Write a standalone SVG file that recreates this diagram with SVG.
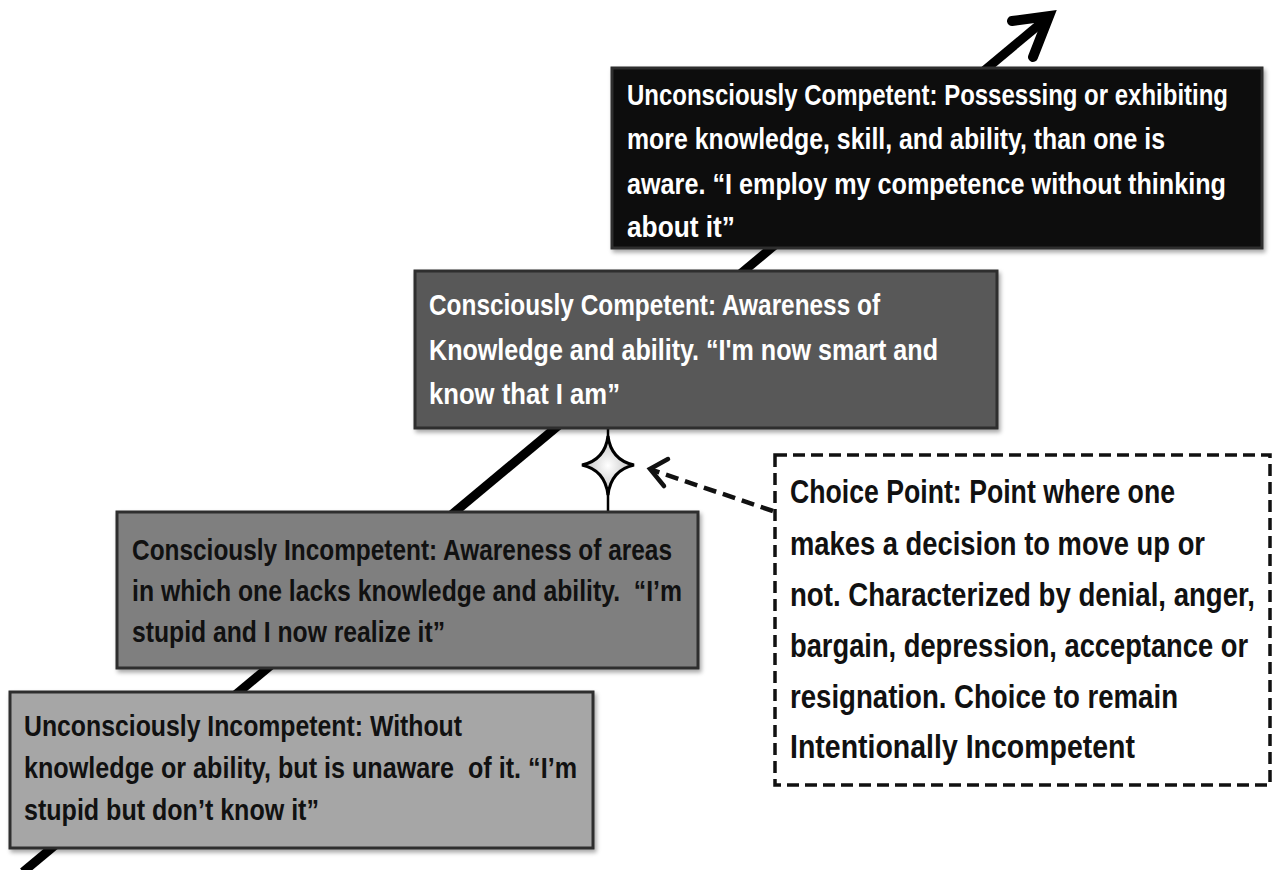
<svg xmlns="http://www.w3.org/2000/svg" width="1277" height="870" viewBox="0 0 1277 870">
  <defs>
    <style>
      .lbl { font-family: "Liberation Sans", Arial, sans-serif; font-weight: bold; font-size: 21px; }
      .lt { fill: #ffffff; }
      .dk { fill: #111111; }
      .box { stroke: #2e2e2e; stroke-width: 3; }
      .choice { font-family: "Liberation Sans", Arial, sans-serif; font-weight: bold; font-size: 24px; fill: #111111; }
      .dash { fill: none; stroke: #111111; stroke-width: 3.5; stroke-dasharray: 12 6; }
    </style>
    <filter id="shadow" x="-5%" y="-5%" width="112%" height="120%">
      <feDropShadow dx="2" dy="3" stdDeviation="2" flood-color="#000" flood-opacity="0.35"/>
    </filter>
    <radialGradient id="starFill" cx="0.5" cy="0.5" r="0.5">
      <stop offset="0" stop-color="#ffffff"/>
      <stop offset="1" stop-color="#bdbdbd"/>
    </radialGradient>
  </defs>

  <rect width="1277" height="870" fill="#ffffff"/>

  <!-- connectors: growth line, choice-point stem and dashed pointer -->
  <g id="connectors">
    <line x1="23" y1="872" x2="1046" y2="19" stroke="#000" stroke-width="9"/>
    <polyline points="1012,21 1049,16 1033,57" fill="none" stroke="#000" stroke-width="10" stroke-linecap="round" stroke-linejoin="miter"/>
    <line x1="608" y1="428" x2="608" y2="512" stroke="#000" stroke-width="2.5"/>
    <line x1="773" y1="511" x2="652" y2="470" stroke="#111" stroke-width="4.5" stroke-dasharray="13 7"/>
    <polyline points="668,459 650,469 664,486" fill="none" stroke="#111" stroke-width="4.5" stroke-linecap="round"/>
  </g>

  <!-- stage 1 -->
  <g id="unconsciously-incompetent">
    <rect class="box" x="10" y="692" width="583" height="156" fill="#a6a6a6" filter="url(#shadow)"/>
    <text class="lbl dk" transform="translate(24,736) scale(1,1.385)" textLength="438" lengthAdjust="spacingAndGlyphs">Unconsciously Incompetent: Without</text>
    <text class="lbl dk" transform="translate(24,778) scale(1,1.385)" textLength="553" lengthAdjust="spacingAndGlyphs" xml:space="preserve">knowledge or ability, but is unaware  of it. “I’m</text>
    <text class="lbl dk" transform="translate(24,820) scale(1,1.385)" textLength="295" lengthAdjust="spacingAndGlyphs">stupid but don’t know it”</text>
  </g>

  <!-- stage 2 -->
  <g id="consciously-incompetent">
    <rect class="box" x="117" y="512" width="581" height="156" fill="#7f7f7f" filter="url(#shadow)"/>
    <text class="lbl dk" transform="translate(132,560) scale(1,1.385)" textLength="540" lengthAdjust="spacingAndGlyphs">Consciously Incompetent: Awareness of areas</text>
    <text class="lbl dk" transform="translate(132,601) scale(1,1.385)" textLength="550" lengthAdjust="spacingAndGlyphs" xml:space="preserve">in which one lacks knowledge and ability.  “I’m</text>
    <text class="lbl dk" transform="translate(132,642) scale(1,1.385)" textLength="313" lengthAdjust="spacingAndGlyphs">stupid and I now realize it”</text>
  </g>

  <!-- stage 3 -->
  <g id="consciously-competent">
    <rect class="box" x="415" y="271" width="582" height="157" fill="#585858" filter="url(#shadow)"/>
    <text class="lbl lt" transform="translate(429,315) scale(1,1.385)" textLength="451" lengthAdjust="spacingAndGlyphs">Consciously Competent: Awareness of</text>
    <text class="lbl lt" transform="translate(429,360) scale(1,1.385)" textLength="509" lengthAdjust="spacingAndGlyphs">Knowledge and ability. “I'm now smart and</text>
    <text class="lbl lt" transform="translate(429,404) scale(1,1.385)" textLength="191" lengthAdjust="spacingAndGlyphs">know that I am”</text>
  </g>

  <!-- stage 4 -->
  <g id="unconsciously-competent">
    <rect class="box" x="612" y="68" width="650" height="180" fill="#0c0c0c" stroke="#3a3a3a" filter="url(#shadow)"/>
    <text class="lbl lt" transform="translate(627,105) scale(1,1.385)" textLength="601" lengthAdjust="spacingAndGlyphs">Unconsciously Competent: Possessing or exhibiting</text>
    <text class="lbl lt" transform="translate(627,149) scale(1,1.385)" textLength="538" lengthAdjust="spacingAndGlyphs">more knowledge, skill, and ability, than one is</text>
    <text class="lbl lt" transform="translate(627,194) scale(1,1.385)" textLength="599" lengthAdjust="spacingAndGlyphs">aware. “I employ my competence without thinking</text>
    <text class="lbl lt" transform="translate(627,237) scale(1,1.385)" textLength="108" lengthAdjust="spacingAndGlyphs">about it”</text>
  </g>

  <!-- choice point marker -->
  <g id="choice-star">
    <path d="M608,436 Q611,460 634,465 Q611,470 608,495 Q605,470 582,465 Q605,460 608,436 Z" fill="url(#starFill)" stroke="#000" stroke-width="3" stroke-linejoin="miter"/>
  </g>

  <!-- choice point note -->
  <g id="choice-point">
    <rect class="dash" x="775" y="455" width="495" height="330" fill="#ffffff"/>
    <text class="choice" transform="translate(790,503) scale(1,1.375)" textLength="385" lengthAdjust="spacingAndGlyphs">Choice Point: Point where one</text>
    <text class="choice" transform="translate(790,555) scale(1,1.375)" textLength="415" lengthAdjust="spacingAndGlyphs">makes a decision to move up or</text>
    <text class="choice" transform="translate(790,606) scale(1,1.375)" textLength="465" lengthAdjust="spacingAndGlyphs">not. Characterized by denial, anger,</text>
    <text class="choice" transform="translate(790,657) scale(1,1.375)" textLength="458" lengthAdjust="spacingAndGlyphs">bargain, depression, acceptance or</text>
    <text class="choice" transform="translate(790,708) scale(1,1.375)" textLength="388" lengthAdjust="spacingAndGlyphs">resignation. Choice to remain</text>
    <text class="choice" transform="translate(790,758) scale(1,1.375)" textLength="345" lengthAdjust="spacingAndGlyphs">Intentionally Incompetent</text>
  </g>
</svg>
